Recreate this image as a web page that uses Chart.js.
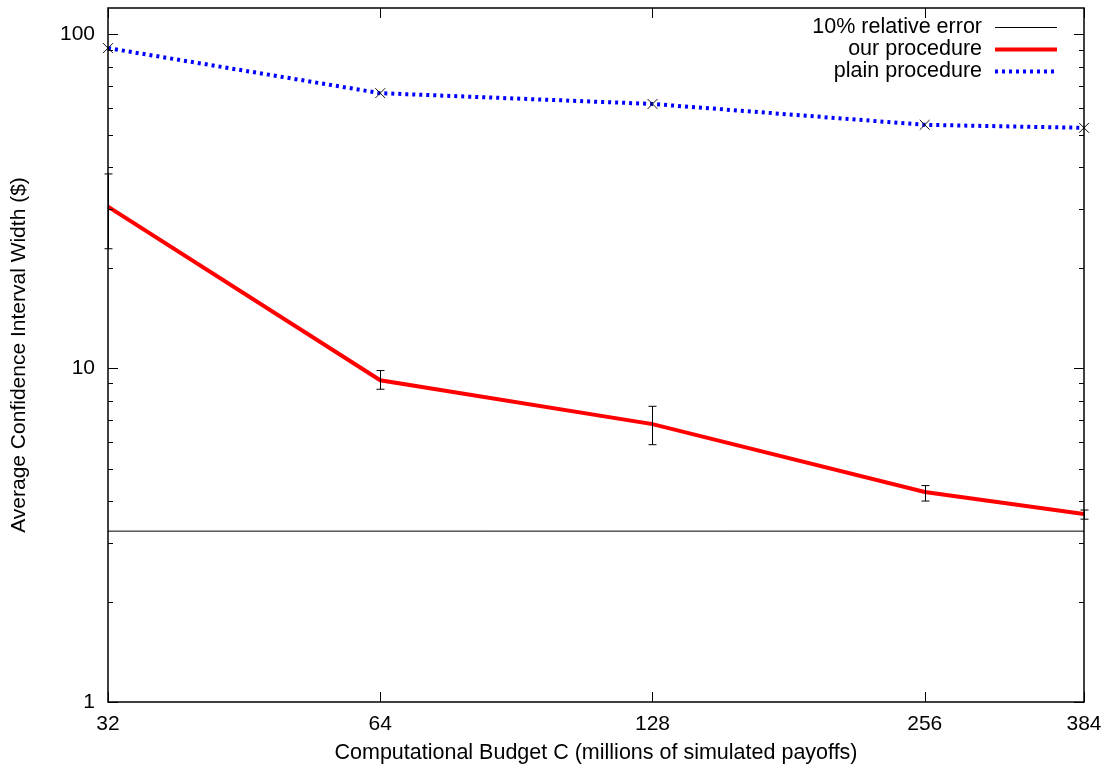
<!DOCTYPE html>
<html>
<head>
<meta charset="utf-8">
<script src="https://cdn.jsdelivr.net/npm/chart.js@4.4.0/dist/chart.umd.min.js"></script>
<style>
  html, body { margin: 0; padding: 0; background: #fff; }
  #c { display: block; }
</style>
</head>
<body>
<canvas id="c" width="1107" height="770"></canvas>
<script>
// Chart values
const budgets = [32, 64, 128, 256, 384];
const ourWidth = [30.5, 9.2, 6.8, 4.26, 3.66];
const ourLow = [22.8, 8.65, 5.9, 4.0, 3.53];
const ourHigh = [38.2, 9.84, 7.69, 4.45, 3.76];
const plainWidth = [91, 66.7, 61.9, 53.6, 52.5];
const targetBudgets = [32, 384];
const targetError = [3.25, 3.25];
const yTickValues = [1, 10, 100];
const xTickValues = [32, 64, 128, 256, 384];
const seriesLabels = ['10% relative error', 'our procedure', 'plain procedure'];

const FONT = '"Liberation Sans", Arial, Helvetica, sans-serif';

function toPoints(xs, ys) {
    return xs.map((x, i) => ({ x: x, y: ys[i] }));
}

// no extra room for half labels: plot box is fixed by layout padding
function fixBox(s) {
    s.paddingTop = 0; s.paddingBottom = 0;
    s.paddingLeft = 0; s.paddingRight = 0;
}

// gnuplot style frame: inward ticks, minor log ticks, error bars and key
const gnuplotLook = {
    id: 'gnuplotLook',
    afterDatasetsDraw(chart) {
        const ctx = chart.ctx;
        const xs = chart.scales.x, ys = chart.scales.y;
        ctx.save();
        ctx.strokeStyle = '#000';
        ctx.lineWidth = 1;
        budgets.forEach((b, i) => {
            const px = Math.round(xs.getPixelForValue(b)) + 0.5;
            const top = ys.getPixelForValue(ourHigh[i]);
            const bot = ys.getPixelForValue(ourLow[i]);
            ctx.beginPath();
            ctx.moveTo(px, top); ctx.lineTo(px, bot);
            ctx.moveTo(px - 4, top); ctx.lineTo(px + 4, top);
            ctx.moveTo(px - 4, bot); ctx.lineTo(px + 4, bot);
            ctx.stroke();
        });
        ctx.restore();
    },
    afterDraw(chart) {
        const ctx = chart.ctx;
        const a = chart.chartArea;
        const xs = chart.scales.x, ys = chart.scales.y;
        ctx.save();
        ctx.strokeStyle = '#000';
        ctx.lineWidth = 1.5;
        ctx.strokeRect(a.left, a.top, a.right - a.left, a.bottom - a.top);

        ctx.lineWidth = 1;
        ctx.beginPath();
        // y ticks left and right
        for (let d = 1; d <= 100; d *= 10) {
            for (let m = 1; m <= 9; m++) {
                const v = d * m;
                if (v < ys.min || v > ys.max) continue;
                const py = Math.round(ys.getPixelForValue(v)) + 0.5;
                const len = m === 1 ? 10 : 5;
                ctx.moveTo(a.left, py); ctx.lineTo(a.left + len, py);
                ctx.moveTo(a.right, py); ctx.lineTo(a.right - len, py);
            }
        }
        // x ticks top and bottom
        xTickValues.forEach(v => {
            const px = Math.round(xs.getPixelForValue(v)) + 0.5;
            ctx.moveTo(px, a.bottom); ctx.lineTo(px, a.bottom - 10);
            ctx.moveTo(px, a.top); ctx.lineTo(px, a.top + 10);
        });
        ctx.stroke();

        // key, top right
        ctx.font = '21.5px ' + FONT;
        ctx.fillStyle = '#000';
        ctx.textAlign = 'right';
        ctx.textBaseline = 'middle';
        chart.data.datasets.forEach((ds, i) => {
            const rowY = 27 + i * 22;
            ctx.fillText(ds.label, 982, rowY);
            ctx.save();
            ctx.strokeStyle = ds.borderColor;
            ctx.lineWidth = ds.borderWidth;
            ctx.setLineDash(ds.borderDash || []);
            ctx.beginPath();
            ctx.moveTo(995, rowY + 0.5);
            ctx.lineTo(1057, rowY + 0.5);
            ctx.stroke();
            ctx.restore();
        });
        ctx.restore();
    }
};

new Chart(document.getElementById('c'), {
    type: 'line',
    data: {
        datasets: [
            {
                label: seriesLabels[0],
                data: toPoints(targetBudgets, targetError),
                borderColor: '#000',
                borderWidth: 1,
                pointRadius: 0
            },
            {
                label: seriesLabels[1],
                data: toPoints(budgets, ourWidth),
                borderColor: '#ff0000',
                borderWidth: 4,
                pointRadius: 0
            },
            {
                label: seriesLabels[2],
                data: toPoints(budgets, plainWidth),
                borderColor: '#0000ff',
                borderWidth: 4,
                borderDash: [3, 4],
                pointStyle: 'crossRot',
                pointRadius: 7,
                pointBorderColor: '#111',
                pointBorderWidth: 1,
                clip: false
            }
        ]
    },
    options: {
        responsive: false,
        animation: false,
        layout: { padding: { top: 5, right: 23, left: 0, bottom: 0 } },
        plugins: {
            legend: { display: false },
            tooltip: { enabled: false }
        },
        scales: {
            x: {
                type: 'logarithmic',
                min: 32,
                max: 384,
                grid: { display: false },
                border: { display: false },
                afterBuildTicks: s => { s.ticks = xTickValues.map(v => ({ value: v })); },
                afterFit: s => { s.height = 68; fixBox(s); },
                ticks: {
                    color: '#000',
                    font: { family: FONT, size: 21 },
                    padding: 2,
                    maxRotation: 0,
                    autoSkip: false,
                    callback: v => String(v)
                },
                title: {
                    display: true,
                    text: 'Computational Budget C (millions of simulated payoffs)',
                    color: '#000',
                    font: { family: FONT, size: 21.5 },
                    padding: { top: 0, bottom: 4 }
                }
            },
            y: {
                type: 'logarithmic',
                min: 1,
                max: 120,
                grid: { display: false },
                border: { display: false },
                afterBuildTicks: s => { s.ticks = yTickValues.map(v => ({ value: v })); },
                afterFit: s => { s.width = 108; fixBox(s); },
                ticks: {
                    color: '#000',
                    font: { family: FONT, size: 21 },
                    padding: 5,
                    autoSkip: false,
                    callback: v => String(v)
                },
                title: {
                    display: true,
                    text: 'Average Confidence Interval Width ($)',
                    color: '#000',
                    font: { family: FONT, size: 21 },
                    padding: { top: 7, bottom: 0 }
                }
            }
        }
    },
    plugins: [gnuplotLook]
});
</script>
</body>
</html>
